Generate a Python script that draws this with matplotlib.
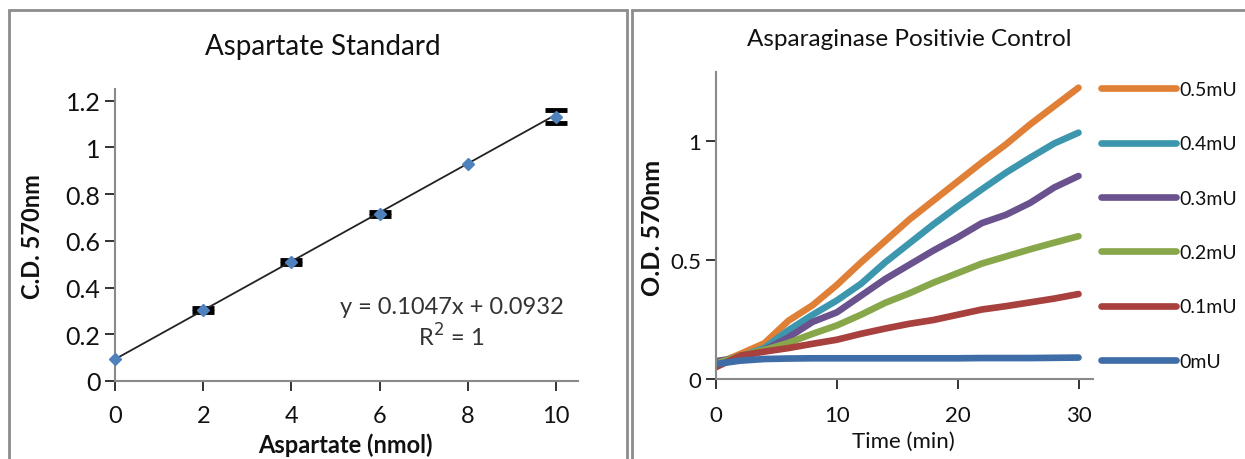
import matplotlib
matplotlib.use("Agg")
import matplotlib.pyplot as plt
from matplotlib.patches import Rectangle
import numpy as np

plt.rcParams['font.family'] = ['Lato', 'DejaVu Sans']

# left panel: aspartate standard
asp_nmol = [0, 2, 4, 6, 8, 10]
asp_od = [0.095, 0.305, 0.51, 0.714, 0.927, 1.132]
asp_err = [0.0, 0.008, 0.008, 0.008, 0.0, 0.029]
slope = 0.1047
intercept = 0.0932
eq_text = "y = 0.1047x + 0.0932"
r2_text = "R$^2$ = 1"

# right panel: asparaginase positive control, read every 2 min
time_min = [0, 2, 4, 6, 8, 10, 12, 14, 16, 18, 20, 22, 24, 26, 28, 30]
series_labels = ["0.5mU", "0.4mU", "0.3mU", "0.2mU", "0.1mU", "0mU"]
od_05 = [0.063, 0.105, 0.15, 0.245, 0.31, 0.395, 0.49, 0.58, 0.67, 0.75, 0.83, 0.91, 0.986, 1.07, 1.147, 1.224]
od_04 = [0.063, 0.094, 0.13, 0.205, 0.27, 0.33, 0.40, 0.49, 0.57, 0.65, 0.725, 0.797, 0.867, 0.93, 0.99, 1.035]
od_03 = [0.075, 0.09, 0.122, 0.175, 0.24, 0.28, 0.35, 0.42, 0.48, 0.54, 0.595, 0.655, 0.69, 0.74, 0.805, 0.853]
od_02 = [0.065, 0.098, 0.122, 0.152, 0.19, 0.225, 0.27, 0.32, 0.36, 0.405, 0.445, 0.485, 0.515, 0.545, 0.573, 0.60]
od_01 = [0.05, 0.098, 0.115, 0.13, 0.148, 0.165, 0.19, 0.212, 0.232, 0.248, 0.27, 0.292, 0.306, 0.322, 0.338, 0.357]
od_00 = [0.063, 0.077, 0.084, 0.086, 0.087, 0.087, 0.087, 0.087, 0.087, 0.087, 0.087, 0.088, 0.088, 0.088, 0.089, 0.09]
series_colors = ["#e07f36", "#3c97ae", "#6a528e", "#87a74a", "#a8403d", "#3f6da8"]

W, H = 1245, 460
fig = plt.figure(figsize=(W / 100, H / 100), dpi=100)
fig.patch.set_facecolor("white")

def px_rect(x0, y0, x1, y1):
    return [x0 / W, 1 - y1 / H, (x1 - x0) / W, (y1 - y0) / H]

# panel borders
for x0, x1 in [(9, 627), (632, 1260)]:
    fig.patches.append(Rectangle((x0 / W, -0.1), (x1 - x0) / W, 1.1 - 11 / H,
                                 transform=fig.transFigure, fill=False,
                                 edgecolor="#8c8c8c", lw=2.0))

txt = "#111111"

def style_axes(ax, size, xpad):
    ax.tick_params(labelsize=size, colors=txt, length=7, width=1.2, direction="out")
    ax.tick_params(axis="x", pad=xpad)
    for s in ["top", "right"]:
        ax.spines[s].set_visible(False)
    for s in ["left", "bottom"]:
        ax.spines[s].set_color("#8a8a8a")
        ax.spines[s].set_linewidth(1.5)

# ---- left chart
ax1 = fig.add_axes(px_rect(115, 90, 578, 382))
with_err = [i for i, e in enumerate(asp_err) if e > 0]
ax1.errorbar([asp_nmol[i] for i in with_err], [asp_od[i] for i in with_err],
             yerr=[asp_err[i] for i in with_err], fmt="none", ecolor="black",
             elinewidth=2, capsize=8, capthick=3.5, zorder=2)
xx = np.array([asp_nmol[0], asp_nmol[-1]])
ax1.plot(xx, slope * xx + intercept, color="#222222", lw=1.3, zorder=3)
ax1.plot(asp_nmol, asp_od, "D", color="#4f81bd", ms=6, mec="#4f81bd",
         zorder=4, clip_on=False)
ax1.set_xlim(0, 10.5)
ax1.set_ylim(0, 1.25)
ax1.set_xticks([0, 2, 4, 6, 8, 10])
ax1.set_yticks([0, 0.2, 0.4, 0.6, 0.8, 1.0, 1.2])
ax1.set_yticklabels(["0", "0.2", "0.4", "0.6", "0.8", "1", "1.2"])
style_axes(ax1, 18, 10)
ax1.tick_params(axis="x", labelsize=17)
fig.text(323 / W, 1 - 47 / H, "Aspartate Standard", ha="center", va="center",
         fontsize=20, color=txt)
fig.text(345 / W, 1 - 445 / H, "Aspartate (nmol)", ha="center", va="center",
         fontsize=17, fontweight="bold", color=txt)
fig.text(32 / W, 1 - 237 / H, "C.D. 570nm", ha="center", va="center",
         fontsize=17, fontweight="bold", color=txt, rotation=90)
fig.text(452 / W, 1 - 308 / H, eq_text, ha="center", va="center",
         fontsize=17, color="#333333")
fig.text(451 / W, 1 - 337 / H, r2_text, ha="center", va="center",
         fontsize=17, color="#333333")

# ---- right chart
ax2 = fig.add_axes(px_rect(716, 73, 1093, 380))
all_series = [od_05, od_04, od_03, od_02, od_01, od_00]
for vals, lab, col in zip(all_series, series_labels, series_colors):
    ax2.plot(time_min, vals, color=col, lw=4.8, label=lab, solid_capstyle="round")
ax2.set_xlim(0, 31.2)
ax2.set_ylim(0, 1.29)
ax2.set_xticks([0, 10, 20, 30])
ax2.set_yticks([0, 0.5, 1.0])
ax2.set_yticklabels(["0", "0.5", "1"])
style_axes(ax2, 16, 12)
leg = ax2.legend(loc="upper left", bbox_to_anchor=(1101 / W, 1 - 82 / H),
                 bbox_transform=fig.transFigure, frameon=False, fontsize=14,
                 handlelength=3.85, handletextpad=0.2, labelspacing=1.92,
                 borderpad=0, borderaxespad=0)
for t in leg.get_texts():
    t.set_color(txt)
fig.text(909 / W, 1 - 40 / H, "Asparaginase Positivie Control", ha="center",
         va="center", fontsize=17.5, color=txt)
fig.text(903 / W, 1 - 442 / H, "Time (min)", ha="center", va="center",
         fontsize=16, color=txt)
fig.text(652 / W, 1 - 228 / H, "O.D. 570nm", ha="center", va="center",
         fontsize=18, fontweight="bold", color=txt, rotation=90)

fig.savefig("out.png", dpi=100)
